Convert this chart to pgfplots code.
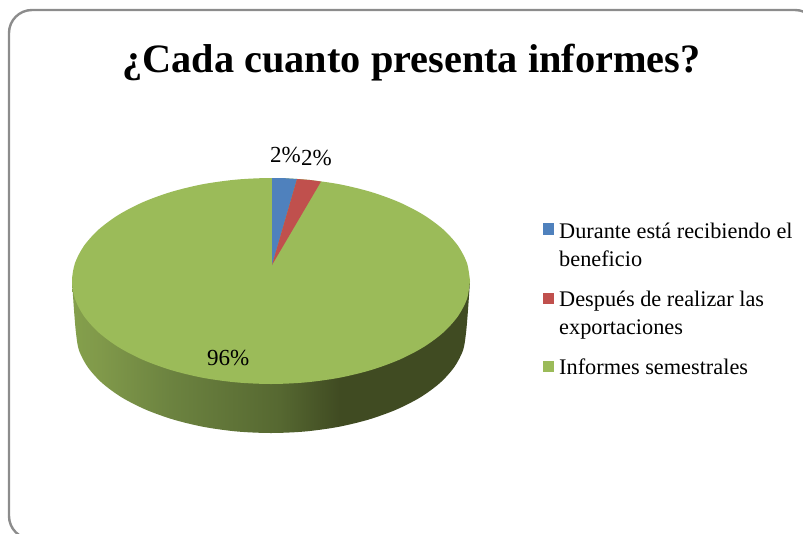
\documentclass[border=0pt]{standalone}
\usepackage{pgfplots}
\pgfplotsset{compat=1.18}
\usepackage{fontspec}
\setmainfont{Liberation Serif}
\definecolor{pblue}{HTML}{4F81BD}
\definecolor{pred}{HTML}{C0504D}
\definecolor{pgreen}{HTML}{9BBB59}
\definecolor{frameg}{HTML}{8C8C8C}
\definecolor{sa}{HTML}{84A04C}
\definecolor{sb}{HTML}{80994A}
\definecolor{sc}{HTML}{6C8340}
\definecolor{sd}{HTML}{566831}
\definecolor{se}{HTML}{404B22}
\pgfdeclarehorizontalshading{sideshade}{100bp}{
color(0bp)=(sa);color(25bp)=(sa);color(28.5bp)=(sb);color(37.3bp)=(sc);color(51.1bp)=(sd);color(58.6bp)=(se);color(75bp)=(se);color(100bp)=(se)}
\begin{document}
\begin{tikzpicture}
\begin{axis}[
  width=803pt,height=533pt,scale only axis,
  xmin=0,xmax=803,ymin=0,ymax=533,y dir=reverse,
  hide axis,clip=true]
% frame
\addplot[draw=frameg,line width=2.4pt,rounded corners=23pt] coordinates {(818,539)(9,539)(9,10)(818,10)(818,539)};
% side wall
\addplot[draw=none,shade,shading=sideshade,smooth] coordinates {
(72,281)(74,310)(76,333)(79,350.4)(87.8,367.2)(102.1,383)(121.6,397.3)(145.7,409.6)(173.5,419.6)(204.3,427)(237.1,431.5)(271,433)(304.9,431.5)(337.7,427)(368.5,419.6)(396.3,409.6)(420.4,397.3)(439.9,383)(454.2,367.2)(463,350.4)(466,333)(468,310)(470,281)} -- cycle;
% top face: Informes semestrales
\addplot[draw=none,fill=pgreen,smooth] coordinates {
(470,281)(467,298.9)(458,316.2)(443.3,332.5)(423.4,347.2)(398.9,359.9)(370.5,370.2)(339.1,377.8)(305.6,382.4)(271,384)(236.4,382.4)(202.9,377.8)(171.5,370.2)(143.1,359.9)(118.6,347.2)(98.7,332.5)(84,316.2)(75,298.9)(72,281)(75,263.1)(84,245.8)(98.7,229.5)(118.6,214.8)(143.1,202.1)(171.5,191.8)(202.9,184.2)(236.4,179.6)(271,178)(305.6,179.6)(339.1,184.2)(370.5,191.8)(398.9,202.1)(423.4,214.8)(443.3,229.5)(458,245.8)(467,263.1)(470,281)} -- cycle;
% Durante
\addplot[draw=none,fill=pblue] coordinates {(272,265)(272,178)(285,178.2)(297,179)} -- cycle;
% Despues
\addplot[draw=none,fill=pred] coordinates {(272,265)(297,179)(310,180)(321,181.6)} -- cycle;
% legend swatches
\addplot[draw=none,fill=pblue] coordinates {(543,223)(554,223)(554,235)(543,235)} -- cycle;
\addplot[draw=none,fill=pred] coordinates {(543,293)(554,293)(554,304)(543,304)} -- cycle;
\addplot[draw=none,fill=pgreen] coordinates {(543,361)(554,361)(554,372)(543,372)} -- cycle;
% texts
\node[anchor=base,font=\fontsize{40.3}{40.3}\selectfont\bfseries,text=black] at (axis cs:411.5,72) {¿Cada cuanto presenta informes?};
\node[anchor=base west,inner sep=0pt,font=\fontsize{23}{23}\selectfont] at (axis cs:270,162) {2\%};
\node[anchor=base west,inner sep=0pt,font=\fontsize{23}{23}\selectfont] at (axis cs:301,165) {2\%};
\node[anchor=base west,inner sep=0pt,font=\fontsize{23}{23}\selectfont] at (axis cs:207,365) {96\%};
\node[anchor=north west,inner sep=0pt,align=left,font=\fontsize{22.3}{28}\selectfont] at (axis cs:559,223) {Durante está recibiendo el\\beneficio};
\node[anchor=north west,inner sep=0pt,align=left,font=\fontsize{22.3}{28}\selectfont] at (axis cs:559,291) {Después de realizar las\\exportaciones};
\node[anchor=north west,inner sep=0pt,align=left,font=\fontsize{22.3}{28}\selectfont] at (axis cs:559,359) {Informes semestrales};
\end{axis}
\pgfresetboundingbox
\path[use as bounding box] (0,0) rectangle (803pt,533pt);
\end{tikzpicture}
\end{document}
